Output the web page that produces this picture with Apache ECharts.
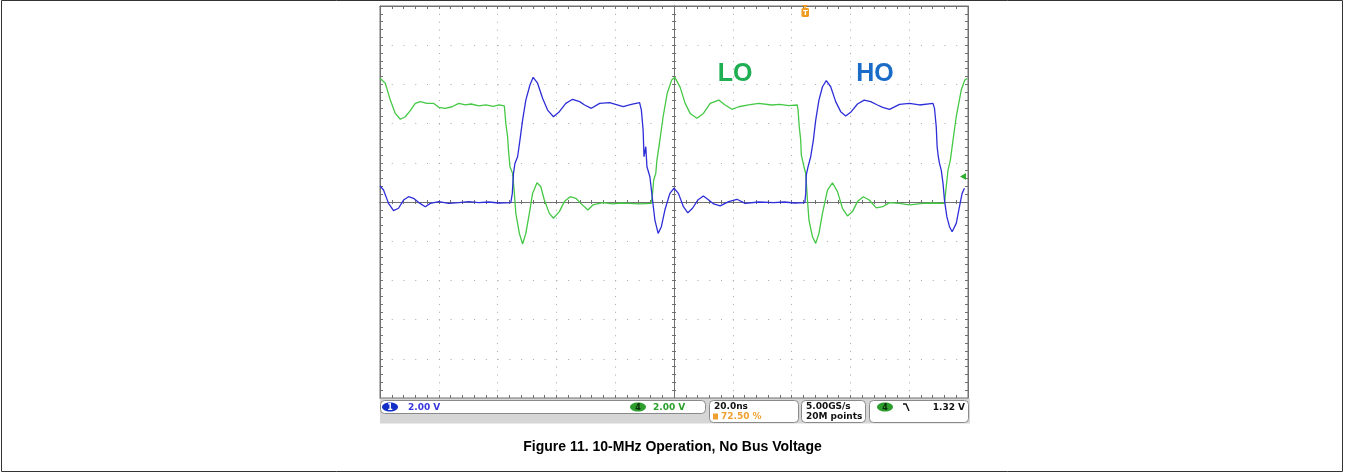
<!DOCTYPE html>
<html>
<head>
<meta charset="utf-8">
<title>Figure 11. 10-MHz Operation, No Bus Voltage</title>
<script src="https://cdn.jsdelivr.net/npm/echarts@6/dist/echarts.min.js"></script>
<style>
html, body { margin: 0; padding: 0; background: #fff; }
#chart { width: 1345px; height: 473px; }
</style>
</head>
<body>
<div id="chart"></div>
<script>
// ==============================================================
// scope capture: 20 ns/div, 2 V/div, both grounds on centre line
// ==============================================================
var loTime = [0, 1.8, 3.5, 5.2, 6.9, 8.6, 10.3, 12, 13.7, 16, 18.3, 20, 22.2, 24.5, 26.8, 29, 31, 33.6, 36, 38.5, 40.5, 42.3,
    42.8, 43.4, 43.7, 44.2, 45.1, 45.7, 46.2, 47.4, 48.5, 49.6, 50.8, 51.9, 53.4, 54.7, 55.9, 57.6, 59, 61, 62.7, 64.7, 66.6,
    68.3, 70.7, 72.4, 75.8, 79.2, 82, 84.9, 88, 92.3, 92.7, 93.1, 93.8, 94.2, 95.2, 96.3, 97.7, 99.2, 100.3, 102.1, 103.8,
    105.5, 107.8, 110, 112.3, 115.2, 117.4, 119.7, 122, 125.4, 128.8, 133.3, 136, 139, 141.9, 142.2, 142.6, 143.1, 143.3,
    144.2, 144.8, 145.4, 145.9, 147.1, 148.2, 149.3, 150.5, 152.2, 153.9, 155.6, 157.3, 159, 160.7, 162.4, 164.4, 166.4,
    168.8, 171, 173.3, 176.7, 180.1, 184.7, 188, 192, 192.6, 193.2, 194, 194.9, 196, 197.7, 198.9, 199.7];
var loVolt = [6.31, 6.06, 5.2, 4.52, 4.22, 4.35, 4.66, 5.03, 5.12, 5.03, 5.03, 4.83, 4.78, 4.86, 5.03, 4.95, 5.0, 4.9, 4.95, 4.88, 4.95, 4.9,
    4.0, 3.33, 2.65, 1.8, 1.46, 0.44, -0.58, -1.6, -2.14, -1.6, -0.58, 0.44, 0.98, 0.78, 0.1, -0.58, -0.83, -0.49, 0.02, 0.27, 0.19,
    -0.07, -0.41, -0.15, -0.03, -0.1, -0.05, -0.07, -0.1, -0.07, 0.44, 1.12, 1.46, 2.14, 3.16, 4.35, 5.55, 6.22, 6.36, 5.85, 5.03,
    4.52, 4.27, 4.52, 5.03, 5.2, 4.95, 4.73, 4.86, 4.95, 5.03, 4.95, 4.98, 4.92, 4.95, 4.69, 3.84, 3.16, 2.4,
    1.8, 1.46, 0.1, -0.92, -1.77, -2.11, -1.6, -0.58, 0.61, 0.98, 0.53, -0.32, -0.71, -0.49, 0.02, 0.27, 0.1,
    -0.3, -0.24, -0.03, -0.07, -0.15, -0.07, -0.05, -0.07, 0.78, 1.63, 2.14, 3.16, 4.35, 5.71, 6.22, 6.3];

var hoTime = [0, 1.2, 2.9, 4.6, 6.3, 8, 9.7, 11.4, 13.2, 15.4, 17.1, 20, 23.4, 26.8, 30.2, 33.6, 37, 40.5, 44.5,
    45, 45.4, 45.9, 46.8, 47.6, 48.5, 49.6, 51, 52.1, 53.6, 55.3, 57, 59, 61, 63.2, 65.5, 67.9, 69.6, 71.9, 74.7, 78.1,
    82.7, 85.5, 88.3, 88.9, 89.5, 89.8, 90.4, 90.8, 91.8, 92.7, 93.5, 94.6, 95.7, 96.9, 98.6, 100, 101.5, 103.2, 104.7,
    106.3, 108.1, 110, 111.8, 113.5, 115.7, 118.6, 121.4, 124.2, 128.8, 133.9, 137.5, 141, 144.5, 144.8, 145, 145.6,
    146.5, 147.4, 148.2, 149.3, 150.5, 151.8, 153.3, 155, 156.7, 158.4, 160.3, 162.4, 164.7, 166.9, 169.2, 171, 173.3,
    176.7, 180.1, 183.5, 188.1, 188.6, 189.2, 189.5, 189.9, 190.3, 190.9, 191.5, 192, 192.8, 193.7, 194.6, 196, 197.1,
    198, 198.8];
var hoVolt = [0.82, 0.61, -0.07, -0.44, -0.32, 0.1, 0.27, 0.19, -0.03, -0.24, -0.07, 0.02, -0.07, -0.03, 0.02, -0.03, 0.0, -0.05, -0.03,
    0.44, 1.46, 1.97, 2.31, 3.16, 4.18, 5.2, 5.97, 6.36, 6.06, 5.29, 4.69, 4.35, 4.61, 5.03, 5.24, 5.12, 4.95, 4.78, 5.03, 5.07,
    4.86, 4.98, 5.07, 4.69, 3.67, 2.31, 2.82, 1.8, 1.29, 0.1, -0.92, -1.6, -1.26, -0.41, 0.44, 0.7, 0.44, -0.24, -0.55,
    -0.32, 0.1, 0.31, 0.1, -0.1, -0.2, 0.02, 0.14, -0.07, 0, -0.03, 0.0, -0.05, -0.03, 0.44, 1.38, 1.8,
    2.31, 3.16, 4.18, 5.2, 5.88, 6.19, 5.88, 5.12, 4.61, 4.39, 4.61, 5.0, 5.2, 5.12, 4.95, 4.83, 4.73,
    4.98, 5.03, 4.95, 5.03, 4.78, 3.84, 2.82, 2.31, 1.97, 1.63, 0.95, 0.1, -0.75, -1.26, -1.52, -1.09, -0.24,
    0.44, 0.7];

var channelScale = ['2.00 V', '2.00 V'];
var timebase = '20.0ns';
var triggerPos = '72.50 %';
var sampleInfo = ['5.00GS/s', '20M points'];
var triggerLevel = '1.32 V';

var scope = echarts.init(document.getElementById('chart'));

function zip(t, v) {
    var out = [];
    for (var i = 0; i < t.length; i++) out.push([t[i], v[i]]);
    return out;
}

var GX = 380, GY = 6, GW = 588, GH = 392;
var GRID = '#707070';
var DOT = '#a8a8a8';
var sf = '"DejaVu Sans", sans-serif';

function xAx(pos, offset, inside, len, split) {
    return {
        type: 'value', min: 0, max: 200, interval: 20, position: pos, offset: offset,
        axisLine: { show: true, onZero: false, lineStyle: { color: GRID, width: 1 } },
        axisTick: { show: true, inside: inside, length: len, lineStyle: { color: GRID } },
        minorTick: { show: true, splitNumber: 5, length: len, lineStyle: { color: GRID } },
        axisLabel: { show: false },
        splitLine: split ? { show: true, lineStyle: { color: DOT, width: 1, type: [1, GH / 50 - 1] } } : { show: false }
    };
}
function yAx(pos, offset, inside, len, split) {
    return {
        type: 'value', min: -10, max: 10, interval: 2, position: pos, offset: offset,
        axisLine: { show: true, onZero: false, lineStyle: { color: GRID, width: 1 } },
        axisTick: { show: true, inside: inside, length: len, lineStyle: { color: GRID } },
        minorTick: { show: true, splitNumber: 5, length: len, lineStyle: { color: GRID } },
        axisLabel: { show: false },
        splitLine: split ? { show: true, lineStyle: { color: DOT, width: 1, type: [1, GW / 50 - 1] } } : { show: false }
    };
}

function txt(s, x, y, color, font, align) {
    return { type: 'text', z: 20, style: { text: s, x: x, y: y, fill: color, font: font, textAlign: align || 'left', textVerticalAlign: 'middle' } };
}
function box(x, y, w, h) {
    return { type: 'rect', z: 15, shape: { x: x, y: y, width: w, height: h, r: 4 }, style: { fill: '#fff', stroke: '#8a8a8a', lineWidth: 1 } };
}
function oval(cx, cy, fill, label, labelColor) {
    return [
        { type: 'ellipse', z: 18, shape: { cx: cx, cy: cy, rx: 8, ry: 4.5 }, style: { fill: fill } },
        txt(label, cx, cy + 0.5, labelColor, 'bold 8px ' + sf, 'center')
    ];
}

var stFont = 'bold 9px ' + sf;

option = {
    backgroundColor: '#fff',
    animation: false,
    title: {
        text: 'Figure 11. 10-MHz Operation, No Bus Voltage',
        left: 'center',
        top: 435,
        textStyle: { fontFamily: '"Liberation Sans", Arial, sans-serif', fontWeight: 'bold', fontSize: 14, color: '#000' }
    },
    grid: { left: GX, top: GY, width: GW, height: GH, show: true, borderColor: GRID, borderWidth: 1, backgroundColor: '#fff' },
    xAxis: [
        xAx('bottom', 0, true, 3, true),
        xAx('top', 0, true, 3, false),
        xAx('bottom', -GH / 2, true, 2, false),
        xAx('bottom', -GH / 2, false, 2, false)
    ],
    yAxis: [
        yAx('left', 0, true, 3, true),
        yAx('right', 0, true, 3, false),
        yAx('left', -GW / 2, true, 2, false),
        yAx('left', -GW / 2, false, 2, false)
    ],
    series: [
        {
            name: 'LO', type: 'line', xAxisIndex: 0, yAxisIndex: 0,
            data: zip(loTime, loVolt), showSymbol: false, silent: true,
            lineStyle: { color: '#45c845', width: 1.3 }, itemStyle: { color: '#45c845' }, z: 5
        },
        {
            name: 'HO', type: 'line', xAxisIndex: 0, yAxisIndex: 0,
            data: zip(hoTime, hoVolt), showSymbol: false, silent: true,
            lineStyle: { color: '#2e2ed8', width: 1.3 }, itemStyle: { color: '#2e2ed8' }, z: 6
        }
    ],
    graphic: [
        // outer frame of the figure
        { type: 'rect', z: 1, shape: { x: 1.5, y: 0.5, width: 1341, height: 471 }, style: { fill: null, stroke: '#333', lineWidth: 1 } },
        // trace names
        txt('LO', 735, 74, '#1fae52', 'bold 25px "Liberation Sans", Arial, sans-serif', 'center'),
        txt('HO', 875, 74, '#1a6cc6', 'bold 25px "Liberation Sans", Arial, sans-serif', 'center'),
        // trigger position marker
        { type: 'polygon', z: 20, shape: { points: [[802, 5], [808, 5], [805, 8]] }, style: { fill: '#f09a1e' } },
        { type: 'rect', z: 20, shape: { x: 801.5, y: 8, width: 7.5, height: 9, r: 1.5 }, style: { fill: '#f09a1e' } },
        txt('T', 805.3, 12.8, '#fff', 'bold 7px ' + sf, 'center'),
        // trigger level marker
        { type: 'polygon', z: 20, shape: { points: [[960, 176.5], [966, 173], [966, 180]] }, style: { fill: '#2fae2f' } },
        // status bar
        { type: 'rect', z: 12, shape: { x: GX, y: GY + GH + 0.5, width: GW + 2, height: 25 }, style: { fill: '#d6d6d6' } },
        box(380.5, 400.5, 325, 13),
        box(709.5, 400.5, 89, 22),
        box(801.5, 400.5, 64, 22),
        box(869.5, 400.5, 99, 22)
    ]
        .concat(oval(390, 407, '#1230c8', '1', '#fff'))
        .concat([txt(channelScale[0], 408, 407.5, '#3636e0', stFont)])
        .concat(oval(638, 407, '#2e9e2e', '4', '#0b2e0b'))
        .concat([txt(channelScale[1], 653, 407.5, '#2aa02a', stFont)])
        .concat([
            txt(timebase, 714, 406.5, '#111', stFont),
            { type: 'rect', z: 20, shape: { x: 713, y: 413.5, width: 5, height: 6 }, style: { fill: '#f0a030' } },
            txt(triggerPos, 721, 417, '#f0a030', stFont),
            txt(sampleInfo[0], 806, 406.5, '#111', stFont),
            txt(sampleInfo[1], 806, 417, '#111', stFont)
        ])
        .concat(oval(885, 407, '#2e9e2e', '4', '#0b2e0b'))
        .concat([
            { type: 'polyline', z: 20, shape: { points: [[903, 404], [906, 404], [909, 411]] }, style: { stroke: '#111', lineWidth: 1.4, fill: null } },
            txt(triggerLevel, 965, 407.5, '#111', stFont, 'right')
        ])
};

scope.setOption(option, true);
</script>
</body>
</html>
